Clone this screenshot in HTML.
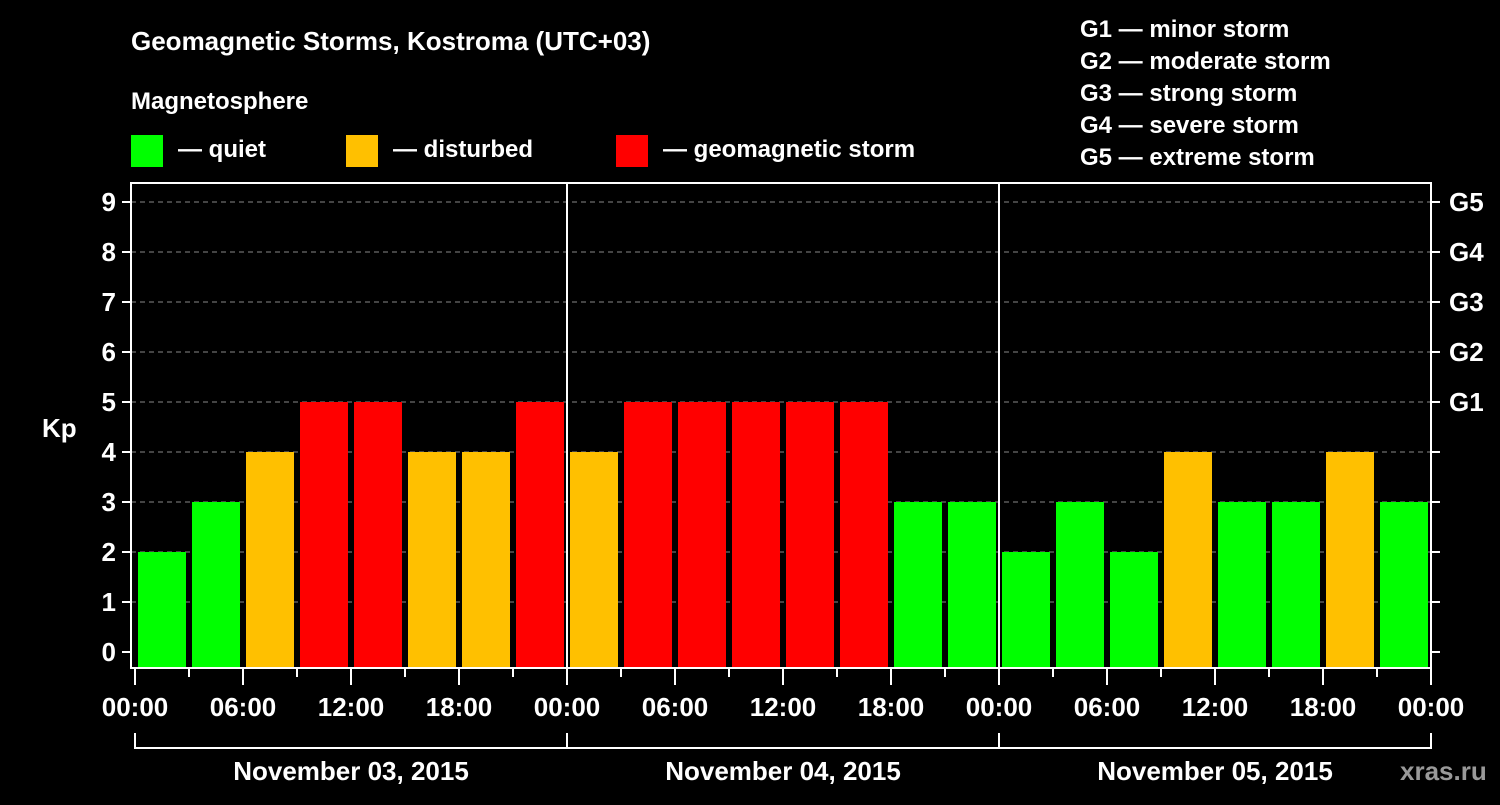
<!DOCTYPE html>
<html><head><meta charset="utf-8"><style>
body{margin:0;background:#000;width:1500px;height:800px;overflow:hidden}
svg text{font-family:"Liberation Sans",sans-serif;font-weight:bold;fill:#fff}
</style></head><body>
<svg id="c" width="1500" height="800">
<text x="131" y="50" font-size="26">Geomagnetic Storms, Kostroma (UTC+03)</text>
<text x="131" y="109" font-size="24">Magnetosphere</text>
<g><rect x="131" y="135" width="32" height="32" fill="#00ff00"/><text x="178" y="157" font-size="24">— quiet</text></g>
<g><rect x="346" y="135" width="32" height="32" fill="#ffc000"/><text x="393" y="157" font-size="24">— disturbed</text></g>
<g><rect x="616" y="135" width="32" height="32" fill="#ff0000"/><text x="663" y="157" font-size="24">— geomagnetic storm</text></g>
<g font-size="24">
<text x="1080" y="37">G1 — minor storm</text><text x="1080" y="69">G2 — moderate storm</text><text x="1080" y="101">G3 — strong storm</text><text x="1080" y="133">G4 — severe storm</text><text x="1080" y="165">G5 — extreme storm</text></g>
<text x="42" y="437" font-size="26">Kp</text>
<text x="1208" y="780" font-size="26" fill="#aaa" style="fill:#bbb"></text>
<text x="1400" y="780" font-size="26" style="fill:#999">xras.ru</text>
<g id="g"></g>
</svg>
<script>
const days=["November 03, 2015","November 04, 2015","November 05, 2015"];
const kpValues=[2,3,4,5,5,4,4,5, 4,5,5,5,5,5,3,3, 2,3,2,4,3,3,4,3];
const yTicks=[0,1,2,3,4,5,6,7,8,9];
const gLabels=["G1","G2","G3","G4","G5"];
const hourLabels=["00:00","06:00","12:00","18:00"];
const NS="http://www.w3.org/2000/svg";
const g=document.getElementById('g');
const X0=135,DAYW=432,BARW=54,Y0=652,UNIT=50,BOT=667,TOP=183,RIGHT=1431;
const xs=h=>X0+h/24*DAYW; const ys=v=>Y0-v*UNIT;
function mk(t,a,p){const e=document.createElementNS(NS,t);for(const k in a)e.setAttribute(k,a[k]);(p||g).appendChild(e);return e;}
yTicks.forEach(v=>{
 if(v>0){const l=mk('line',{x1:131,x2:RIGHT,y1:ys(v),y2:ys(v),stroke:'#888','stroke-dasharray':'5,4','stroke-width':1});
 
 }
 const t=mk('line',{x1:122,x2:131,y1:ys(v),y2:ys(v),stroke:'#fff','stroke-width':2});
 
 
 const t2=mk('line',{x1:RIGHT,x2:RIGHT+9,y1:ys(v),y2:ys(v),stroke:'#fff','stroke-width':2});
 
 
 const tx=mk('text',{x:116,y:ys(v)+9,'font-size':26,'text-anchor':'end'});tx.textContent=v;
 
 
 if(v>=5){const gt=mk('text',{x:1449,y:ys(v)+9,'font-size':26});gt.textContent=gLabels[v-5];
 
 }
});
const col=v=>v>=5?'#ff0000':v==4?'#ffc000':'#00ff00';
kpValues.forEach((v,i)=>{
 const x=xs(i*3)+3;const r=mk('rect',{x:x,y:ys(v),width:BARW-6,height:BOT-ys(v),fill:col(v)});
 
 
});
const fr=mk('rect',{x:131,y:TOP,width:RIGHT-131,height:BOT+1-TOP,fill:'none',stroke:'#fff','stroke-width':2});


for(let d=1;d<days.length;d++){const l=mk('line',{x1:xs(d*24),x2:xs(d*24),y1:TOP,y2:BOT,stroke:'#fff','stroke-width':2});
 
 }
for(let h=0;h<=days.length*24;h+=3){const major=h%6==0;
 const l=mk('line',{x1:xs(h),x2:xs(h),y1:669,y2:major?685:677,stroke:'#fff','stroke-width':2});
 
 
 if(major){const t=mk('text',{x:xs(h),y:716,'font-size':26,'text-anchor':'middle'});t.textContent=hourLabels[(h%24)/6];
 
 }}
days.forEach((d,i)=>{
 const a=xs(i*24),b=xs(i*24+24);
 const p=mk('path',{d:`M${a},733V748H${b}`+(i==days.length-1?`V733`:''),stroke:'#fff','stroke-width':2,fill:'none'});
 
 
 const t=mk('text',{x:(a+b)/2,y:780,'font-size':26,'text-anchor':'middle'});t.textContent=d;
 
 
});
</script>
</body></html>
